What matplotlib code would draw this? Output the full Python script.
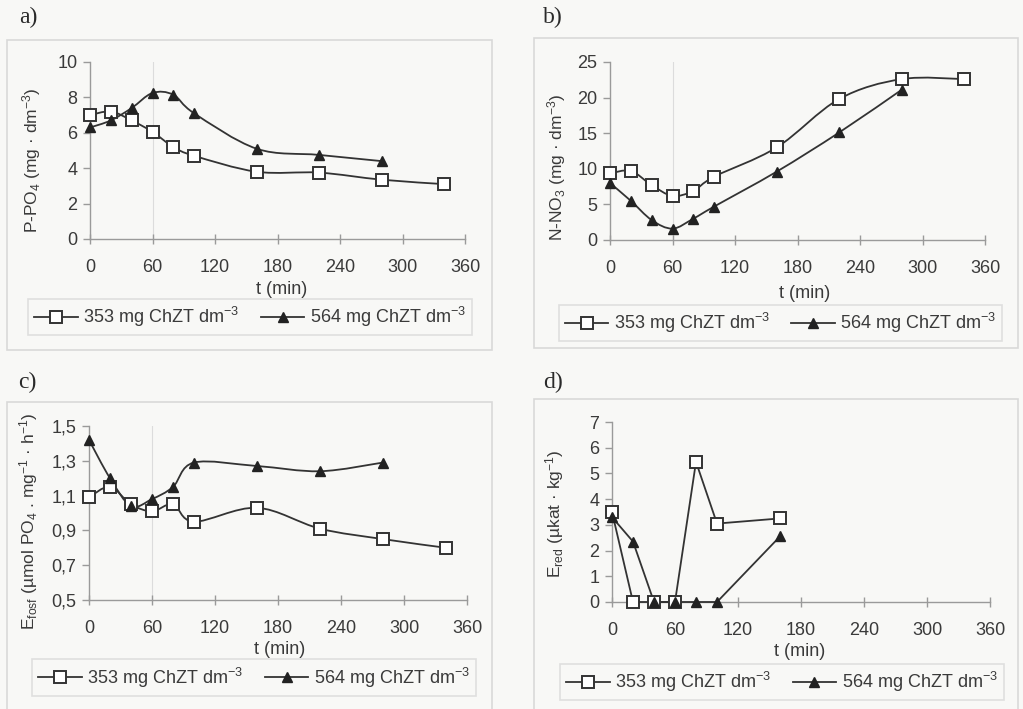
import numpy as np
import matplotlib
matplotlib.use("Agg")
import matplotlib.pyplot as plt
from matplotlib.path import Path
from matplotlib.patches import PathPatch, Rectangle
from matplotlib.lines import Line2D

plt.rcParams['font.family'] = ['Liberation Sans', 'DejaVu Sans']
plt.rcParams['mathtext.fontset'] = 'custom'
plt.rcParams['mathtext.rm'] = 'Liberation Sans'
plt.rcParams['mathtext.it'] = 'Liberation Sans:italic'
plt.rcParams['mathtext.bf'] = 'Liberation Sans:bold'

# ---------------- data ----------------
t_353 = [0, 20, 40, 60, 80, 100, 160, 220, 280, 340]
t_564 = [0, 20, 40, 60, 80, 100, 160, 220, 280]

po4_353 = [7.0, 7.2, 6.7, 6.05, 5.2, 4.7, 3.8, 3.75, 3.35, 3.1]
po4_564 = [6.3, 6.7, 7.4, 8.25, 8.15, 7.1, 5.1, 4.75, 4.4]

no3_353 = [9.35, 9.7, 7.7, 6.2, 6.9, 8.9, 13.0, 19.8, 22.6, 22.6]
no3_564 = [8.0, 5.5, 2.8, 1.6, 3.0, 4.7, 9.6, 15.1, 21.1]

efosf_353 = [1.09, 1.15, 1.05, 1.01, 1.05, 0.95, 1.03, 0.91, 0.85, 0.80]
efosf_564 = [1.42, 1.20, 1.04, 1.08, 1.15, 1.29, 1.27, 1.24, 1.29]

t_red = [0, 20, 40, 60, 80, 100, 160]
ered_353 = [3.5, 0.0, 0.0, 0.0, 5.45, 3.05, 3.25]
ered_564 = [3.3, 2.35, 0.0, 0.0, 0.0, 0.0, 2.55]

x_ticks = [0, 60, 120, 180, 240, 300, 360]
label_353 = "353 mg ChZT dm$^{-3}$"
label_564 = "564 mg ChZT dm$^{-3}$"

W, H = 1023, 709
fig = plt.figure(figsize=(W / 100, H / 100), dpi=100, facecolor='#f8f8f6')

LC = '#333333'
TC = '#3a3a3a'
AC = '#9a9a9a'


def fx(px):
    return px / W


def fy(py):
    return 1 - py / H


def smooth_path(x, y, smooth=True):
    x = np.asarray(x, float)
    y = np.asarray(y, float)
    n = len(x)
    verts = [(x[0], y[0])]
    codes = [Path.MOVETO]
    for i in range(n - 1):
        if smooth:
            i0 = max(i - 1, 0)
            i3 = min(i + 2, n - 1)
            c1 = (x[i] + (x[i + 1] - x[i0]) / 6, y[i] + (y[i + 1] - y[i0]) / 6)
            c2 = (x[i + 1] - (x[i3] - x[i]) / 6, y[i + 1] - (y[i3] - y[i]) / 6)
            verts += [c1, c2, (x[i + 1], y[i + 1])]
            codes += [Path.CURVE4] * 3
        else:
            verts.append((x[i + 1], y[i + 1]))
            codes.append(Path.LINETO)
    return Path(verts, codes)


def make_panel(box, frame, ylim, yticks, yticklabels, ylabel, ylabel_pos,
               xlabel_pos, legend_box, letter, letter_pos, series, vline=True,
               smooth=True):
    l, r, b, t = box
    ax = fig.add_axes([fx(l), fy(b), fx(r) - fx(l), fy(t) - fy(b)])
    ax.set_facecolor('none')
    ax.set_xlim(0, 360)
    ax.set_ylim(*ylim)
    for s in ['top', 'right']:
        ax.spines[s].set_visible(False)
    for s in ['left', 'bottom']:
        ax.spines[s].set_color(AC)
        ax.spines[s].set_linewidth(1.0)
    ax.set_xticks(x_ticks)
    ax.set_yticks(yticks)
    ax.set_yticklabels(yticklabels)
    ax.tick_params(axis='x', direction='inout', length=7, width=1.0, color=AC,
                   labelsize=13, labelcolor=TC, pad=11)
    ax.tick_params(axis='y', direction='out', length=5, width=1.0, color=AC,
                   labelsize=13, labelcolor=TC, pad=4)
    if vline:
        ax.axvline(60, color='#dcdcdc', lw=0.8, zorder=0)

    for (xs, ys, kind) in series:
        ax.add_patch(PathPatch(smooth_path(xs, ys, smooth), fill=False,
                               edgecolor=LC, lw=1.3, zorder=3, clip_on=False))
        if kind == 'sq':
            ax.plot(xs, ys, ls='none', marker='s', ms=9, mfc='white', mec=LC,
                    mew=1.4, zorder=4, clip_on=False)
        else:
            ax.plot(xs, ys, ls='none', marker='^', ms=7.5, mfc='#222222',
                    mec='#222222', zorder=5, clip_on=False)

    fig.text(fx(ylabel_pos[0]), fy(ylabel_pos[1]), ylabel, rotation=90,
             ha='center', va='center', fontsize=12.5, color=TC)
    fig.text(fx(xlabel_pos[0]), fy(xlabel_pos[1]), 't (min)', ha='center',
             va='center', fontsize=13, color=TC)
    fig.text(fx(letter_pos[0]), fy(letter_pos[1]), letter, ha='left',
             va='center', fontsize=17, color='#2a2a2a',
             family=['Liberation Serif', 'DejaVu Serif'])

    fl, fr, ft, fb = frame
    fig.add_artist(Rectangle((fx(fl), fy(fb)), fx(fr) - fx(fl), fy(ft) - fy(fb),
                             transform=fig.transFigure, fill=False,
                             edgecolor='#d9d9d9', lw=1.2))

    handles = [
        Line2D([], [], color=LC, lw=1.3, marker='s', ms=9, mfc='white',
               mec=LC, mew=1.4),
        Line2D([], [], color=LC, lw=1.3, marker='^', ms=7.5, mfc='#222222',
               mec='#222222'),
    ]
    ll, lr, lt, lb = legend_box
    leg = fig.legend(handles, [label_353, label_564], ncol=2,
                     loc='center', bbox_to_anchor=(fx((ll + lr) / 2), fy((lt + lb) / 2)),
                     fontsize=13, frameon=True, fancybox=False,
                     handlelength=2.4, handletextpad=0.3, columnspacing=1.2,
                     borderpad=0.35)
    leg.get_frame().set_edgecolor('#d9d9d9')
    leg.get_frame().set_facecolor('none')
    leg.get_frame().set_linewidth(1.2)
    for txt in leg.get_texts():
        txt.set_color(TC)
    return ax


# a)
make_panel(box=(90, 465, 239, 62), frame=(7, 492, 40, 350),
           ylim=(0, 10), yticks=[0, 2, 4, 6, 8, 10],
           yticklabels=['0', '2', '4', '6', '8', '10'],
           ylabel='P-PO$_4$ (mg · dm$^{-3}$)', ylabel_pos=(32, 160),
           xlabel_pos=(282, 290), legend_box=(40, 460, 303, 331),
           letter='a)', letter_pos=(19, 17),
           series=[(t_353, po4_353, 'sq'), (t_564, po4_564, 'tri')])

# b)
make_panel(box=(610, 985, 240, 62), frame=(534, 1018, 38, 348),
           ylim=(0, 25), yticks=[0, 5, 10, 15, 20, 25],
           yticklabels=['0', '5', '10', '15', '20', '25'],
           ylabel='N-NO$_3$ (mg · dm$^{-3}$)', ylabel_pos=(557, 167),
           xlabel_pos=(805, 293), legend_box=(569, 992, 305, 341),
           letter='b)', letter_pos=(543, 17),
           series=[(t_353, no3_353, 'sq'), (t_564, no3_564, 'tri')])

# c)
make_panel(box=(89, 467, 600, 426), frame=(7, 492, 402, 720),
           ylim=(0.5, 1.5), yticks=[0.5, 0.7, 0.9, 1.1, 1.3, 1.5],
           yticklabels=['0,5', '0,7', '0,9', '1,1', '1,3', '1,5'],
           ylabel=r'E$_{\mathrm{fosf}}$ (µmol PO$_4$ . mg$^{-1}$ · h$^{-1}$)',
           ylabel_pos=(29, 521),
           xlabel_pos=(280, 649), legend_box=(36, 472, 661, 694),
           letter='c)', letter_pos=(18, 382),
           series=[(t_353, efosf_353, 'sq'), (t_564, efosf_564, 'tri')])

# d)
make_panel(box=(612, 990, 602, 422), frame=(534, 1018, 399, 720),
           ylim=(0, 7), yticks=[0, 1, 2, 3, 4, 5, 6, 7],
           yticklabels=['0', '1', '2', '3', '4', '5', '6', '7'],
           ylabel=r'E$_{\mathrm{red}}$ (µkat · kg$^{-1}$)', ylabel_pos=(555, 514),
           xlabel_pos=(800, 652), legend_box=(569, 995, 667, 697),
           letter='d)', letter_pos=(543, 382),
           series=[(t_red, ered_353, 'sq'), (t_red, ered_564, 'tri')],
           vline=False, smooth=False)

fig.savefig('out.png', dpi=100, facecolor=fig.get_facecolor())
